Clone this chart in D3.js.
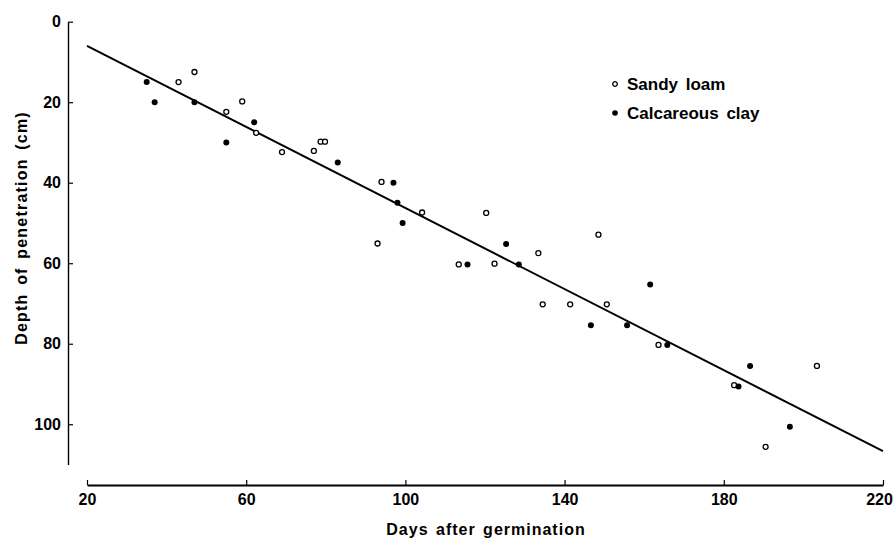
<!DOCTYPE html>
<html>
<head>
<meta charset="utf-8">
<script src="https://cdn.jsdelivr.net/npm/d3@7"></script>
<style>
  body { margin: 0; background: #fff; }
  svg { display: block; }
  .tick text { font-family: "Liberation Sans", Arial, sans-serif; font-weight: bold; font-size: 16px; fill: #000; }
  .lab { font-family: "Liberation Sans", Arial, sans-serif; font-weight: bold; font-size: 16px; fill: #000; }
</style>
</head>
<body>
<svg id="chart" width="895" height="541"></svg>
<script>
// days after germination / depth (cm)
var sandyDays  = [43, 47, 55, 59, 62.5, 69, 77, 78.7, 79.8, 93, 94, 104.2, 113.4, 120.3, 122.4,
                  133.4, 134.5, 141.4, 148.5, 150.6, 163.6, 182.6, 190.5, 203.4];
var sandyDepth = [15, 12.5, 22.4, 19.8, 27.6, 32.4, 32.1, 29.8, 29.8, 55.1, 39.8, 47.4, 60.3, 47.5, 60.1,
                  57.5, 70.2, 70.2, 52.9, 70.2, 80.3, 90.3, 105.6, 85.5];

var clayDays   = [35, 37, 47, 55, 62, 83, 97, 98, 99.3, 115.6, 125.3, 128.5, 146.6, 155.7, 161.5,
                  165.8, 183.7, 186.6, 196.6];
var clayDepth  = [15, 20, 20, 30, 25, 35, 40, 45, 50, 60.3, 55.2, 60.3, 75.4, 75.4, 65.3,
                  80.3, 90.6, 85.5, 100.6];

// fitted line end points
var fitDays  = [20, 220];
var fitDepth = [6, 106.7];

var xTicks = [20, 60, 100, 140, 180, 220];
var yTicks = [0, 20, 40, 60, 80, 100];

var legendNames = ["Sandy loam", "Calcareous clay"];

var svg = d3.select("#chart");

var x = d3.scaleLinear().domain([20, 220]).range([87, 883]);
var y = d3.scaleLinear().domain([0, 110]).range([21.7, 464.5]);

// y axis (ticks pointing inward)
var yAxis = svg.append("g")
    .attr("transform", "translate(68,0)")
    .call(d3.axisLeft(y).tickValues(yTicks).tickSizeInner(-5).tickSizeOuter(0).tickPadding(7));
yAxis.select(".domain").attr("stroke-width", 1.4);
yAxis.selectAll(".tick line").attr("stroke-width", 1.2);

// x axis, set below the plot, ticks pointing up
var xAxis = svg.append("g")
    .attr("transform", "translate(0,485)")
    .call(d3.axisBottom(x).tickValues(xTicks).tickSizeInner(-5).tickSizeOuter(0).tickPadding(9));
xAxis.select(".domain").attr("stroke-width", 2);
xAxis.selectAll(".tick line").attr("stroke-width", 1.2);
// last label sits against the right edge
xAxis.selectAll(".tick text").filter(function (d) { return d === 220; }).attr("dx", "-4");

// regression line
var fit = fitDays.map(function (d, i) { return [d, fitDepth[i]]; });
svg.append("path")
    .datum(fit)
    .attr("fill", "none")
    .attr("stroke", "#000")
    .attr("stroke-width", 2)
    .attr("d", d3.line().x(function (d) { return x(d[0]); }).y(function (d) { return y(d[1]); }));

// points
var sandy = sandyDays.map(function (d, i) { return [d, sandyDepth[i]]; });
var clay = clayDays.map(function (d, i) { return [d, clayDepth[i]]; });

svg.append("g").selectAll("circle")
    .data(sandy)
    .enter().append("circle")
    .attr("cx", function (d) { return x(d[0]); })
    .attr("cy", function (d) { return y(d[1]); })
    .attr("r", 2.5)
    .attr("fill", "#fff")
    .attr("stroke", "#000")
    .attr("stroke-width", 1.3);

svg.append("g").selectAll("circle")
    .data(clay)
    .enter().append("circle")
    .attr("cx", function (d) { return x(d[0]); })
    .attr("cy", function (d) { return y(d[1]); })
    .attr("r", 3)
    .attr("fill", "#000");

// legend
var legend = svg.append("g").attr("transform", "translate(615,84)");
legendNames.forEach(function (name, i) {
    var g = legend.append("g").attr("transform", "translate(0," + (i * 29) + ")");
    g.append("circle")
        .attr("r", i === 0 ? 2.3 : 2.8)
        .attr("fill", i === 0 ? "#fff" : "#000")
        .attr("stroke", "#000")
        .attr("stroke-width", i === 0 ? 1.3 : 0);
    g.append("text")
        .attr("class", "lab")
        .attr("x", 12)
        .attr("dy", "0.35em")
        .style("font-size", "17px")
        .style("word-spacing", "3px")
        .text(name);
});

// axis titles
svg.append("text")
    .attr("class", "lab")
    .attr("x", 486)
    .attr("y", 535)
    .attr("text-anchor", "middle")
    .style("letter-spacing", "1px")
    .style("word-spacing", "2px")
    .text("Days after germination");

svg.append("text")
    .attr("class", "lab")
    .attr("transform", "translate(27,228) rotate(-90)")
    .attr("text-anchor", "middle")
    .style("letter-spacing", "1.2px")
    .style("word-spacing", "3px")
    .text("Depth of penetration (cm)");
</script>
</body>
</html>
